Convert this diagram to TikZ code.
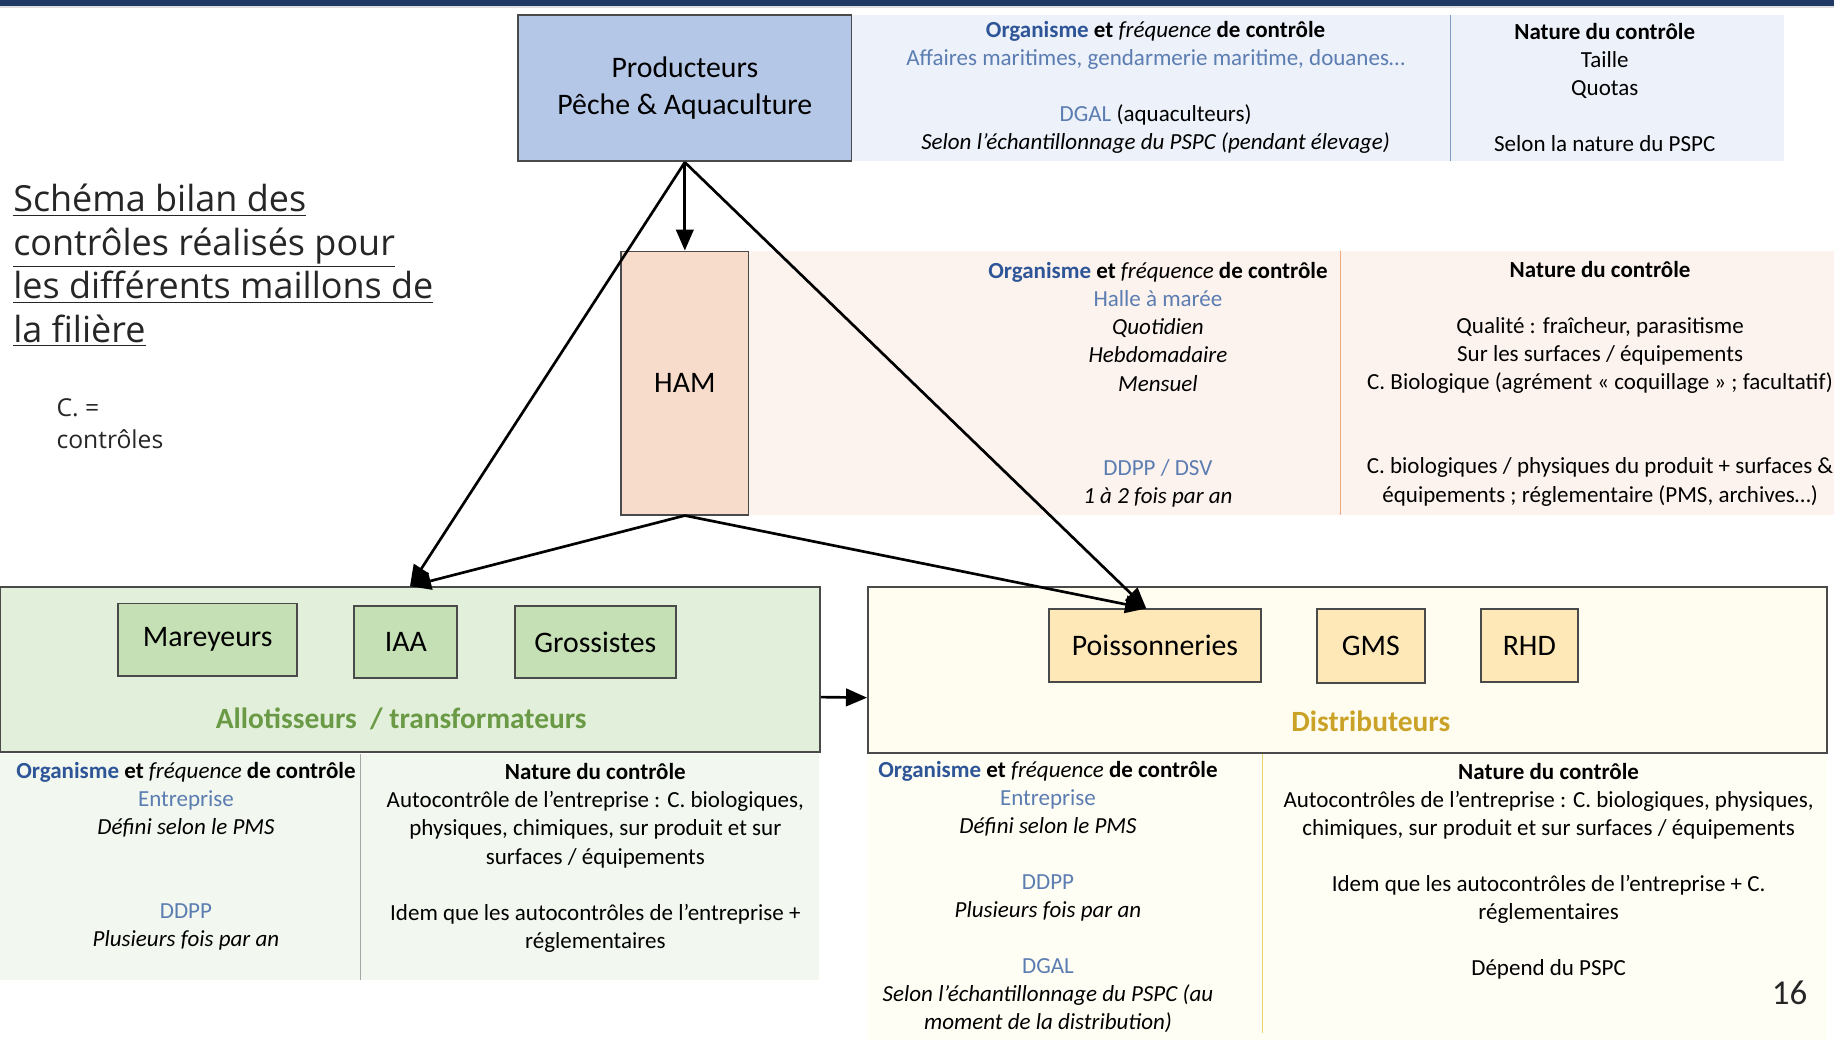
\documentclass[tikz,border=0pt]{standalone}
\usepackage{fontspec}
\setmainfont{Carlito}
\newfontfamily\titlefont{Open Sans}
\usetikzlibrary{arrows.meta}

\definecolor{navy}{HTML}{1F3864}
\definecolor{orgblue}{HTML}{2E5597}
\definecolor{lightorg}{HTML}{5B7DB1}
\definecolor{prodfill}{HTML}{B4C7E7}
\definecolor{blueband}{HTML}{EDF1F9}
\definecolor{hamfill}{HTML}{F8DCCB}
\definecolor{pinkband}{HTML}{FDF3EE}
\definecolor{pinkline}{HTML}{F0A878}
\definecolor{allotfill}{HTML}{E2EFDA}
\definecolor{allotbox}{HTML}{C5E0B4}
\definecolor{allottext}{HTML}{6A9A45}
\definecolor{greenband}{HTML}{F2F7EF}
\definecolor{distfill}{HTML}{FFFDF0}
\definecolor{distbox}{HTML}{FFE8B8}
\definecolor{disttext}{HTML}{C9A227}
\definecolor{yellowband}{HTML}{FFFEF4}
\definecolor{yellowline}{HTML}{E8D36A}
\definecolor{boxline}{HTML}{4A4A4A}
\definecolor{titlegray}{HTML}{262626}

\tikzset{
    box/.style={draw=boxline, line width=0.9pt, inner sep=0pt, align=center,
        font=\fontsize{14.5}{18.2}\selectfont},
    info/.style={align=center, inner sep=0pt, font=\fontsize{11.2}{13.66}\selectfont},
    arr/.style={line width=1.3pt, -{Triangle[length=0.36cm,width=0.3cm]}},
}
\newcommand{\orgline}{\textcolor{orgblue}{\textbf{Organisme}} \textbf{et} \textit{fréquence} \textbf{de contrôle}}
\newcommand{\orgname}[1]{\textcolor{lightorg}{#1}}

\begin{document}
\begin{tikzpicture}[x=0.02cm,y=0.02cm]
    \useasboundingbox (0,0) rectangle (1568,889);
    \clip (0,0) rectangle (1568,889);

    % Top band
    \fill[navy] (0,884) rectangle (1568,889);
    \fill[gray!25] (0,882) rectangle (1568,884);

    % Title
    \node[anchor=west, align=left, inner sep=0pt, text=titlegray,
        font=\titlefont\fontsize{17.5}{21.2}\selectfont] (title) at (11,662)
        {\underline{Schéma bilan des}\\ \underline{contrôles réalisés pour}\\
         \underline{les différents maillons de}\\ \underline{la filière}};
    \node[anchor=west, align=left, inner sep=0pt, text=titlegray,
        font=\titlefont\fontsize{12}{15.4}\selectfont] (legend) at (48,526.5)
        {C. =\\ contrôles};

    % Producteurs
    \fill[blueband] (728,751) rectangle (1525,876);
    \draw[orgblue!60] (1240,751) -- (1240,876);
    \node[box, fill=prodfill, minimum width=5.7cm, minimum height=2.5cm] (prod) at (585.5,813.5)
        {Producteurs\\ Pêche \& Aquaculture};
    \node[info] (prodorg) at (988,814)
        {\orgline\\ \orgname{Affaires maritimes, gendarmerie maritime, douanes…}\\ ~\\
         \orgname{DGAL} (aquaculteurs)\\ \textit{Selon l’échantillonnage du PSPC (pendant élevage)}};
    \node[info] (prodnat) at (1372,814)
        {\textbf{Nature du contrôle}\\ Taille\\ Quotas\\ ~\\ Selon la nature du PSPC};

    % HAM
    \fill[pinkband] (640,449) rectangle (1568,674);
    \draw[pinkline] (1146,449) -- (1146,674);
    \node[box, fill=hamfill, minimum width=2.18cm, minimum height=4.5cm] (ham) at (585.5,561.5) {HAM};
    \node[info] (hamorg) at (990,560)
        {\orgline\\ \orgname{Halle à marée}\\ \textit{Quotidien}\\ \textit{Hebdomadaire}\\ \textit{Mensuel}\\ ~\\ ~\\
         \orgname{DDPP / DSV}\\ \textit{1 à 2 fois par an}};
    \node[info] (hamnat) at (1368,561)
        {\textbf{Nature du contrôle}\\ ~\\ Qualité : fraîcheur, parasitisme\\ Sur les surfaces / équipements\\
         C. Biologique (agrément « coquillage » ; facultatif)\\ ~\\ ~\\
         C. biologiques / physiques du produit + surfaces \&\\ équipements ; réglementaire (PMS, archives…)};

    % Allotisseurs / transformateurs
    \node[draw=boxline, line width=0.9pt, fill=allotfill, minimum width=14.02cm, minimum height=2.82cm] (allot) at (350.5,316.5) {};
    \node[box, fill=allotbox, minimum width=3.06cm, minimum height=1.24cm] (mar) at (177.5,342) {Mareyeurs};
    \node[box, fill=allotbox, minimum width=1.76cm, minimum height=1.24cm] (iaa) at (347,340) {IAA};
    \node[box, fill=allotbox, minimum width=2.76cm, minimum height=1.24cm] (gross) at (509,340) {Grossistes};
    \node[text=allottext, font=\fontsize{14.3}{17}\selectfont\bfseries] (allotlabel) at (343,274)
        {Allotisseurs~~/ transformateurs};

    \fill[greenband] (0,51) rectangle (700,244);
    \draw[gray!70] (308,51) -- (308,244);
    \node[info] (allotorg) at (159,157)
        {\orgline\\ \orgname{Entreprise}\\ \textit{Défini selon le PMS}\\ ~\\ ~\\
         \orgname{DDPP}\\ \textit{Plusieurs fois par an}};
    \node[info] (allotnat) at (509,155.5)
        {\textbf{Nature du contrôle}\\ Autocontrôle de l’entreprise : C. biologiques,\\
         physiques, chimiques, sur produit et sur\\ surfaces / équipements\\ ~\\
         Idem que les autocontrôles de l’entreprise +\\ réglementaires};

    % Distributeurs
    \node[draw=boxline, line width=0.9pt, fill=distfill, minimum width=16.4cm, minimum height=2.84cm] (distrib) at (1152,316) {};
    \node[box, fill=distbox, minimum width=3.62cm, minimum height=1.24cm] (poiss) at (987.5,337) {Poissonneries};
    \node[box, fill=distbox, minimum width=1.84cm, minimum height=1.26cm] (gms) at (1172,336.5) {GMS};
    \node[box, fill=distbox, minimum width=1.66cm, minimum height=1.24cm] (rhd) at (1307.5,337) {RHD};
    \node[text=disttext, font=\fontsize{14.3}{17}\selectfont\bfseries] (distlabel) at (1172,272) {Distributeurs};

    \fill[yellowband] (742,0) rectangle (1562,244);
    \draw[yellowline] (1079,6) -- (1079,244);
    \node[info] (distorg) at (896,122)
        {\orgline\\ \orgname{Entreprise}\\ \textit{Défini selon le PMS}\\ ~\\
         \orgname{DDPP}\\ \textit{Plusieurs fois par an}\\ ~\\
         \orgname{DGAL}\\ \textit{Selon l’échantillonnage du PSPC (au}\\ \textit{moment de la distribution)}};
    \node[info] (distnat) at (1324,144)
        {\textbf{Nature du contrôle}\\ Autocontrôles de l’entreprise : C. biologiques, physiques,\\
         chimiques, sur produit et sur surfaces / équipements\\ ~\\
         Idem que les autocontrôles de l’entreprise + C.\\ réglementaires\\ ~\\ Dépend du PSPC};

    % Page number
    \node[font=\fontsize{17}{20}\selectfont, text=titlegray] (page) at (1530,40) {16};

    % Arrows
    \draw[arr] (prod.south) -- (ham.north);
    \draw[arr] (prod.south) -- (allot.north);
    \draw[arr] (prod.south) -- ([xshift=-0.15cm]poiss.north);
    \draw[arr] (ham.south) -- (allot.north);
    \draw[arr] (ham.south) -- ([xshift=-0.15cm]poiss.north);
    \draw[arr] ([yshift=-0.47cm]allot.east) -- ([yshift=-0.47cm]distrib.west);
\end{tikzpicture}
\end{document}
